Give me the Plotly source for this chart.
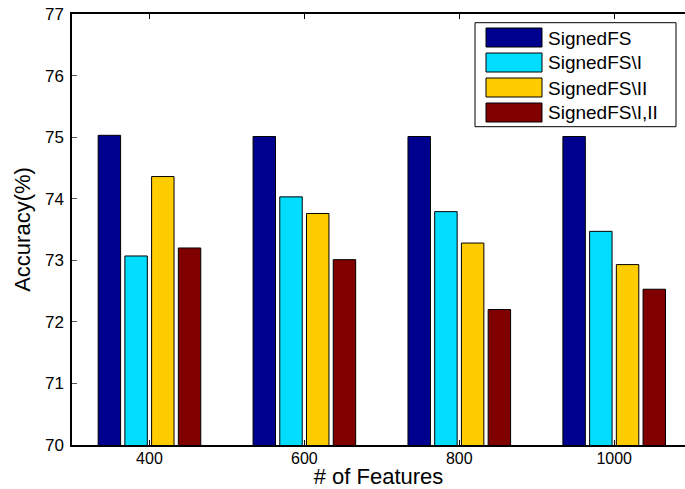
import plotly.graph_objects as go

categories = ["400", "600", "800", "1000"]
series_names = ["SignedFS", "SignedFS\\I", "SignedFS\\II", "SignedFS\\I,II"]
signedfs = [75.03, 75.01, 75.01, 75.01]
signedfs_i = [73.07, 74.03, 73.79, 73.47]
signedfs_ii = [74.36, 73.76, 73.28, 72.93]
signedfs_i_ii = [73.20, 73.01, 72.20, 72.53]
colors = ["#00008F", "#00DDFF", "#FFCC00", "#800000"]
y_ticks = [70, 71, 72, 73, 74, 75, 76, 77]

values = [signedfs, signedfs_i, signedfs_ii, signedfs_i_ii]
xpos = list(range(1, len(categories) + 1))

FONT = "Liberation Sans, Arial, Helvetica, sans-serif"

W, H = 685, 489
ML, MR, MT, MB = 72, 0, 14, 44

fig = go.Figure()
for name, vals, col in zip(series_names, values, colors):
    fig.add_trace(go.Bar(
        x=xpos, y=vals, name=name,
        marker=dict(color=col, line=dict(color="black", width=1)),
        showlegend=False,
    ))

# custom legend (MATLAB-style large swatches), pixel -> plot-area paper coords
def px(x):
    return (x - ML) / (W - ML - MR)
def py(y):
    return (H - MB - y) / (H - MT - MB)

lx0, lx1 = 475, 676
ly0, ly1 = 22.7, 126.7
shapes = [dict(type="rect", xref="paper", yref="paper",
               x0=px(lx0), x1=px(lx1), y0=py(ly1), y1=py(ly0),
               line=dict(color="black", width=1), fillcolor="white", layer="above")]
annotations = []
row_tops = [28, 53, 78, 103]
for name, col, top in zip(series_names, colors, row_tops):
    shapes.append(dict(type="rect", xref="paper", yref="paper",
                       x0=px(486), x1=px(542), y0=py(top + 19), y1=py(top),
                       line=dict(color="black", width=1), fillcolor=col, layer="above"))
    annotations.append(dict(xref="paper", yref="paper", x=px(546), y=py(top + 10),
                            text=name, showarrow=False, xanchor="left", yanchor="middle",
                            font=dict(family=FONT, size=19, color="black")))

fig.update_layout(
    width=W, height=H,
    margin=dict(l=ML, r=MR, t=MT, b=MB, autoexpand=False),
    paper_bgcolor="white", plot_bgcolor="white",
    barmode="group", bargap=0.31, bargroupgap=0.16,
    font=dict(family=FONT, color="black"),
    shapes=shapes, annotations=annotations,
    xaxis=dict(
        tickvals=xpos, ticktext=categories, range=[0.5, 4.457],
        showline=True, linecolor="black", linewidth=1.5, mirror="allticks",
        ticks="inside", ticklen=5, tickcolor="black",
        showgrid=False, zeroline=False,
        tickfont=dict(size=16, family=FONT), ticklabelstandoff=-2,
        title=dict(text="# of Features", font=dict(size=22, family=FONT), standoff=8),
    ),
    yaxis=dict(
        range=[70, 77], tickvals=y_ticks, ticktext=[str(t) for t in y_ticks],
        showline=True, linecolor="black", linewidth=1.5,
        ticks="inside", ticklen=5, tickcolor="#555555",
        showgrid=False, zeroline=False,
        tickfont=dict(size=17, family=FONT), ticklabelstandoff=3,
        title=dict(text="Accuracy(%)", font=dict(size=22, family=FONT), standoff=8),
    ),
)

fig.write_html("out.html", config={"displayModeBar": False},
               post_script="document.body.style.margin='0';document.body.style.overflow='hidden';")
